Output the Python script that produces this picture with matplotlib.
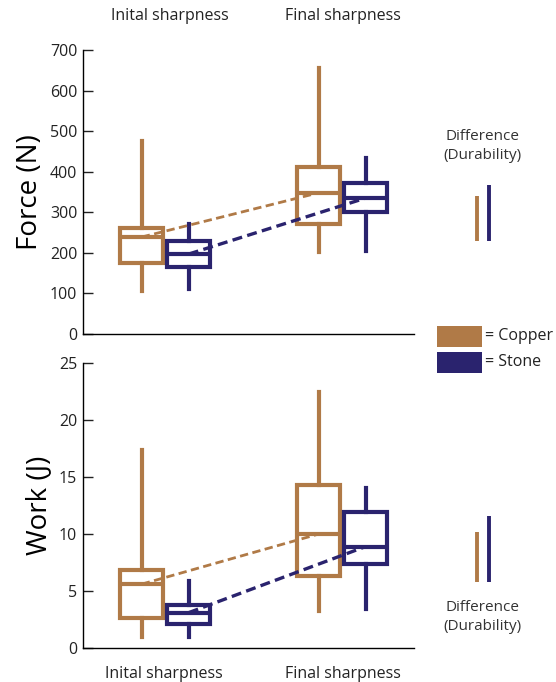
import matplotlib
matplotlib.use("Agg")
import matplotlib.pyplot as plt
from matplotlib.patches import Rectangle

plt.rcParams['font.family'] = ['Open Sans', 'DejaVu Sans']

copper = '#B07A47'
stone = '#2A236E'

groups = ['Inital sharpness', 'Final sharpness']
materials = ['Copper', 'Stone']

# force (N): [initial, final] for each material -> (whislo, q1, med, q3, whishi)
force_copper = [(105, 175, 239, 261, 475), (202, 271, 348, 412, 655)]
force_stone = [(110, 165, 197, 229, 271), (205, 301, 335, 372, 434)]
force_base = 230

# work (J)
work_copper = [(1.0, 2.6, 5.6, 6.8, 17.4), (3.2, 6.3, 10.0, 14.3, 22.5)]
work_stone = [(1.0, 2.1, 3.1, 3.8, 5.9), (3.4, 7.4, 8.9, 11.9, 14.0)]
work_base = 5.8

group_x = [2.49, 7.84]
off = 0.71
diff_x = [11.9, 12.27]


def stats(vals):
    out = []
    for v in vals:
        lo, q1, med, q3, hi = v
        out.append(dict(whislo=lo, q1=q1, med=med, q3=q3, whishi=hi, fliers=[]))
    return out


def panel(ax, cu, st, base, ylim, yticks, ylabel, diff_label_y):
    for vals, col, sign, dlw in [(cu, copper, -1, 2.0), (st, stone, 1, 2.4)]:
        pos = [g + sign * off for g in group_x]
        props = dict(color=col, linewidth=3.0)
        ax.bxp(stats(vals), positions=pos, widths=1.3, showcaps=False,
               showfliers=False, patch_artist=True,
               boxprops=dict(facecolor='white', edgecolor=col, linewidth=3.0),
               whiskerprops=props, medianprops=props, zorder=2)
        meds = [v[2] for v in vals]
        ax.plot(pos, meds, ls='--', color=col, lw=dlw, dashes=(3, 1.6), zorder=3)
    d_cu = cu[1][2] - cu[0][2]
    d_st = st[1][2] - st[0][2]
    ax.vlines(diff_x, base, [base + d_cu, base + d_st], colors=[copper, stone],
              lw=2.8, clip_on=False)
    ax.text(sum(diff_x) / 2, diff_label_y, 'Difference\n(Durability)', ha='center',
            va='center', fontsize=11, color='#333333', clip_on=False, linespacing=1.35)
    ax.set_xlim(0, 10)
    ax.set_ylim(*ylim)
    ax.set_yticks(yticks)
    ax.spines['top'].set_visible(False)
    ax.spines['right'].set_visible(False)
    ax.spines['left'].set_linewidth(1)
    ax.spines['bottom'].set_linewidth(1)
    ax.tick_params(axis='y', direction='in', length=7, width=1, labelsize=11.5,
                   pad=4, colors='#222222')
    ax.set_ylabel(ylabel, fontsize=20, labelpad=4)


fig = plt.figure(figsize=(5.56, 6.82), dpi=100)
ax1 = fig.add_axes([0.149, 0.5103, 0.595, 0.4164])
ax2 = fig.add_axes([0.149, 0.0499, 0.595, 0.4178])

panel(ax1, force_copper, force_stone, force_base, (0, 700),
      range(0, 701, 100), 'Force (N)', 463)
panel(ax2, work_copper, work_stone, work_base, (0, 25),
      range(0, 26, 5), 'Work (J)', 2.7)

ax1.set_xticks([])
for g, lab in zip([2.63, 7.85], groups):
    ax1.text(g, 1.12, lab, transform=ax1.get_xaxis_transform(), ha='center',
             va='center', fontsize=11.5, color='#222222')
ax2.set_xticks([2.45, 7.85])
ax2.set_xticklabels(groups, fontsize=11.5, color='#222222')
ax2.tick_params(axis='x', length=0, pad=13)

# legend
for i, (m, col) in enumerate(zip(materials, [copper, stone])):
    y0 = 1 - (347 + i * 26) / 682
    fig.add_artist(Rectangle((437 / 556, y0), 45 / 556, 21 / 682,
                             transform=fig.transFigure, facecolor=col,
                             edgecolor='none'))
    fig.text(485 / 556, y0 + 10.5 / 682, '= ' + m, fontsize=11.5, va='center',
             ha='left', color='#222222')

fig.savefig('out.png', dpi=100)
